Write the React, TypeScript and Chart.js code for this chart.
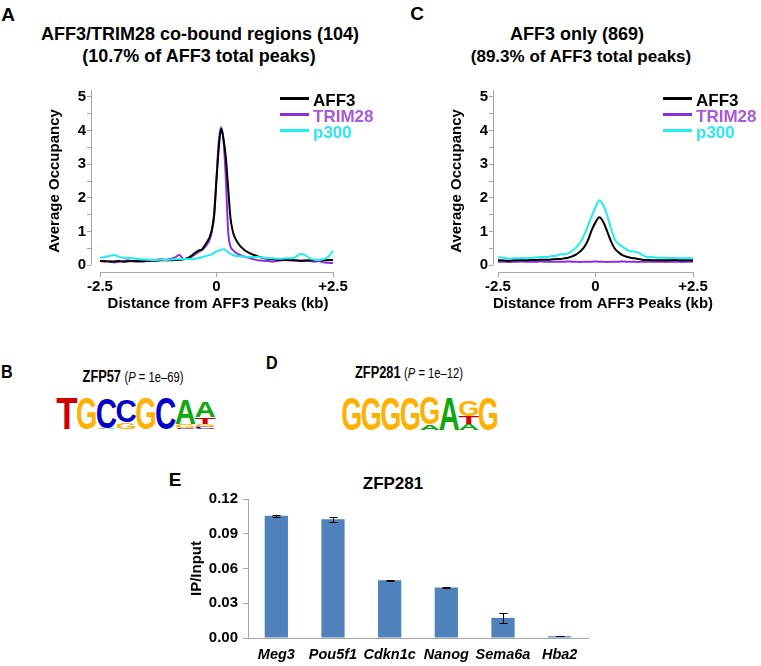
import React, { useEffect, useRef } from 'react';
import { Chart, registerables } from 'chart.js';
Chart.register(...registerables);

// ---------- DATA ----------
// Panel A: AFF3/TRIM28 co-bound regions (distance in kb)
const distA = [-2.5, -2.4, -2.3, -2.2, -2.1, -2.0, -1.9, -1.8, -1.7, -1.6, -1.5, -1.4, -1.3, -1.2, -1.1, -1.0, -0.9, -0.8, -0.7, -0.6, -0.5, -0.4, -0.3, -0.2,
  -0.15, -0.1, -0.05, 0, 0.05, 0.1, 0.15, 0.2, 0.25, 0.3, 0.35, 0.4,
  0.5, 0.6, 0.7, 0.8, 0.9, 1.0, 1.1, 1.2, 1.3, 1.4, 1.5, 1.6, 1.7, 1.8, 1.9, 2.0, 2.1, 2.2, 2.3, 2.4, 2.5];
const aff3A = [0.12, 0.12, 0.10, 0.11, 0.12, 0.10, 0.11, 0.12, 0.12, 0.11, 0.12, 0.13, 0.13, 0.14, 0.14, 0.14, 0.15, 0.15, 0.17, 0.22, 0.32, 0.42, 0.48, 0.70,
  0.82, 1.05, 1.5, 2.55, 3.5, 4.05, 3.75, 3.2, 2.3, 1.4, 1.0, 0.8,
  0.58, 0.45, 0.36, 0.30, 0.25, 0.21, 0.19, 0.17, 0.16, 0.15, 0.15, 0.14, 0.14, 0.13, 0.13, 0.14, 0.14, 0.15, 0.14, 0.15, 0.15];
const trim28A = [0.12, 0.10, 0.12, 0.08, 0.10, 0.12, 0.14, 0.11, 0.10, 0.14, 0.16, 0.14, 0.16, 0.17, 0.16, 0.18, 0.22, 0.30, 0.18, 0.20, 0.28, 0.38, 0.46, 0.62,
  0.75, 1.0, 1.5, 2.6, 3.7, 4.1, 3.7, 2.6, 1.0, 0.55, 0.45, 0.38,
  0.30, 0.25, 0.22, 0.17, 0.14, 0.13, 0.12, 0.10, 0.12, 0.14, 0.17, 0.14, 0.13, 0.12, 0.14, 0.12, 0.10, 0.12, 0.08, 0.07, 0.06];
const p300A = [0.22, 0.24, 0.27, 0.30, 0.25, 0.22, 0.22, 0.20, 0.18, 0.17, 0.16, 0.15, 0.15, 0.16, 0.15, 0.16, 0.17, 0.17, 0.18, 0.18, 0.18, 0.20, 0.24, 0.28,
  0.30, 0.32, 0.36, 0.40, 0.43, 0.46, 0.47, 0.44, 0.38, 0.33, 0.30, 0.28,
  0.26, 0.25, 0.24, 0.24, 0.24, 0.22, 0.20, 0.20, 0.19, 0.19, 0.20, 0.20, 0.24, 0.33, 0.30, 0.20, 0.16, 0.15, 0.18, 0.25, 0.42];

// Panel C: AFF3 only
const distC = [-2.5, -2.4, -2.3, -2.2, -2.1, -2.0, -1.9, -1.8, -1.7, -1.6, -1.5, -1.4, -1.3, -1.2, -1.1, -1.0, -0.9, -0.8, -0.7, -0.6,
  -0.5, -0.4, -0.3, -0.2, -0.1, 0, 0.1, 0.2, 0.3, 0.4, 0.5, 0.6, 0.7, 0.8, 0.9, 1.0, 1.1, 1.2, 1.3, 1.4,
  1.5, 1.6, 1.7, 1.8, 1.9, 2.0, 2.1, 2.2, 2.3, 2.4, 2.5];
const aff3C = [0.14, 0.14, 0.13, 0.13, 0.14, 0.14, 0.14, 0.14, 0.15, 0.15, 0.15, 0.16, 0.16, 0.16, 0.17, 0.18, 0.18, 0.20, 0.22, 0.26,
  0.31, 0.40, 0.52, 0.72, 1.03, 1.27, 1.42, 1.28, 1.0, 0.70, 0.48, 0.37, 0.29, 0.25, 0.22, 0.20, 0.18, 0.16, 0.15, 0.15,
  0.14, 0.14, 0.14, 0.14, 0.14, 0.15, 0.15, 0.14, 0.14, 0.14, 0.14];
const trim28C = [0.10, 0.10, 0.10, 0.09, 0.10, 0.10, 0.11, 0.10, 0.10, 0.10, 0.10, 0.11, 0.10, 0.10, 0.10, 0.10, 0.10, 0.10, 0.11, 0.10,
  0.10, 0.09, 0.10, 0.10, 0.10, 0.11, 0.10, 0.10, 0.09, 0.10, 0.10, 0.10, 0.11, 0.10, 0.10, 0.10, 0.09, 0.10, 0.10, 0.10,
  0.10, 0.10, 0.10, 0.09, 0.10, 0.10, 0.10, 0.09, 0.10, 0.10, 0.10];
const p300C = [0.22, 0.23, 0.20, 0.19, 0.20, 0.20, 0.21, 0.20, 0.21, 0.22, 0.23, 0.24, 0.24, 0.25, 0.27, 0.28, 0.32, 0.32, 0.35, 0.42,
  0.52, 0.66, 0.87, 1.15, 1.45, 1.72, 1.93, 1.78, 1.48, 1.08, 0.75, 0.62, 0.54, 0.46, 0.41, 0.40, 0.37, 0.30, 0.25, 0.24,
  0.23, 0.22, 0.22, 0.21, 0.21, 0.21, 0.20, 0.20, 0.20, 0.20, 0.20];

const occTicks = [0, 0.5, 1, 1.5, 2, 2.5, 3, 3.5, 4, 4.5, 5];
const distTicks = [-2.5, 0, 2.5];
const distTickLabels = ['-2.5', '0', '+2.5'];

// Panel E: ZFP281 ChIP-qPCR
const genes = ['Meg3', 'Pou5f1', 'Cdkn1c', 'Nanog', 'Sema6a', 'Hba2'];
const ipInput = [0.1055, 0.1025, 0.0498, 0.0436, 0.0174, 0.0015];
const ipErr = [0.0008, 0.0022, 0.0003, 0.0002, 0.0045, 0.0002];
const ipTicks = [0, 0.03, 0.06, 0.09, 0.12];

// Motif logos (columns listed top -> bottom: [letter, fraction of full height])
const logoZFP57: [string, number][][] = [
  [['T', 1.0]],
  [['G', 1.0]],
  [['C', 0.97], ['A', 0.03]],
  [['C', 0.72], ['G', 0.21]],
  [['G', 1.0]],
  [['C', 1.0]],
  [['A', 0.79], ['G', 0.12], ['C', 0.04]],
  [['A', 0.5], ['T', 0.22], ['G', 0.08], ['C', 0.07]],
];
const logoZFP281: [string, number][][] = [
  [['G', 1.0]],
  [['G', 1.0]],
  [['G', 1.0]],
  [['G', 1.0]],
  [['G', 0.83], ['A', 0.17]],
  [['A', 1.0]],
  [['G', 0.48], ['T', 0.25], ['A', 0.18]],
  [['G', 1.0]],
];

// ---------- STYLE ----------
const FONT = '"Liberation Sans", Arial, Helvetica, sans-serif';
const AXIS_GRAY = '#A6A6A6';
const COLORS = { AFF3: '#000000', TRIM28: '#8E2CDC', p300: '#22EEEE' };
const LEGEND_TEXT = { AFF3: '#000000', TRIM28: '#A958D8', p300: '#2EE6EE' };
const LETTER_COLORS: Record<string, string> = { A: '#10A810', C: '#0000C8', G: '#FFB000', T: '#CC0000' };

const detachedAxes = {
  id: 'detachedAxes',
  afterDraw(chart: any, _args: any, opts: any) {
    const { ctx, chartArea, scales } = chart;
    const x = scales.x, y = scales.y;
    ctx.save();
    ctx.strokeStyle = opts.color;
    ctx.lineWidth = 1;
    ctx.beginPath();
    const xl = Math.round(chartArea.left) + 0.5;
    ctx.moveTo(xl, y.getPixelForValue(0));
    ctx.lineTo(xl, chartArea.top);
    const yb = Math.round(chartArea.bottom) + 0.5;
    ctx.moveTo(x.getPixelForValue(opts.xFrom), yb);
    ctx.lineTo(x.getPixelForValue(opts.xTo), yb);
    ctx.stroke();
    ctx.restore();
  },
};

const errorBars = {
  id: 'errorBars',
  afterDatasetsDraw(chart: any, _args: any, opts: any) {
    const meta = chart.getDatasetMeta(0);
    const y = chart.scales.y;
    const ctx = chart.ctx;
    const vals = chart.data.datasets[0].data;
    ctx.save();
    ctx.strokeStyle = '#000';
    ctx.lineWidth = 1;
    meta.data.forEach((bar: any, i: number) => {
      const v = vals[i], e = opts.errors[i];
      const x = Math.round(bar.x) + 0.5;
      const yt = Math.round(y.getPixelForValue(v + e)) + 0.5;
      const ybt = Math.round(y.getPixelForValue(v - e)) + 0.5;
      const cap = opts.cap;
      ctx.beginPath();
      ctx.moveTo(x, yt); ctx.lineTo(x, ybt);
      ctx.moveTo(x - cap, yt); ctx.lineTo(x + cap, yt);
      ctx.moveTo(x - cap, ybt); ctx.lineTo(x + cap, ybt);
      ctx.stroke();
    });
    ctx.restore();
  },
};

type ProfileProps = {
  left: number; top: number; width: number; height: number;
  areaLeft: number; areaRight: number; xStartPx: number; xEndPx: number;
  yTitlePad: number;
  dist: number[]; aff3: number[]; trim28: number[]; p300: number[];
};

function ProfileChart(p: ProfileProps) {
  const ref = useRef<HTMLCanvasElement | null>(null);
  useEffect(() => {
    const areaTop = 88, areaBottom = 272, zeroPx = 265, unitPx = 34;
    const ppu = (p.xEndPx - p.xStartPx) / 5;
    const xMin = -2.5 - (p.xStartPx - p.areaLeft) / ppu;
    const xMax = 2.5 + (p.areaRight - p.xEndPx) / ppu;
    const yMin = -(areaBottom - zeroPx) / unitPx;
    const yMax = (zeroPx - areaTop) / unitPx;
    const tickFont = { family: FONT, size: 15, weight: 'bold' as const };
    const mk = (label: 'AFF3' | 'TRIM28' | 'p300', arr: number[], order: number) => ({
      label,
      data: p.dist.map((d, i) => ({ x: d, y: arr[i] })),
      borderColor: COLORS[label],
      backgroundColor: COLORS[label],
      borderWidth: 2,
      pointRadius: 0,
      cubicInterpolationMode: 'monotone' as const,
      order,
    });
    const chart = new Chart(ref.current!, {
      type: 'line',
      data: { datasets: [mk('AFF3', p.aff3, 1), mk('TRIM28', p.trim28, 2), mk('p300', p.p300, 0)] },
      options: {
        responsive: false,
        animation: false,
        events: [],
        layout: { padding: { top: areaTop - p.top, right: p.left + p.width - p.areaRight, left: 0, bottom: 0 } },
        plugins: {
          legend: { display: false },
          tooltip: { enabled: false },
          detachedAxes: { color: AXIS_GRAY, xFrom: -2.5, xTo: 2.5 },
        } as any,
        scales: {
          x: {
            type: 'linear',
            min: xMin,
            max: xMax,
            afterBuildTicks: (s: any) => { s.ticks = distTicks.map((v) => ({ value: v })); },
            afterFit: (s: any) => { s.height = p.top + p.height - areaBottom; },
            ticks: {
              autoSkip: false, maxRotation: 0, padding: 1, color: '#000', font: tickFont,
              callback: (_v: any, i: number) => distTickLabels[i],
            },
            grid: { drawOnChartArea: false, drawTicks: true, tickLength: 5, color: AXIS_GRAY },
            border: { display: false },
            title: { display: true, text: 'Distance from AFF3 Peaks (kb)', color: '#000', font: tickFont, padding: 5 },
          },
          y: {
            min: yMin,
            max: yMax,
            afterBuildTicks: (s: any) => { s.ticks = occTicks.map((v) => ({ value: v })); },
            afterFit: (s: any) => { s.width = p.areaLeft - p.left; },
            ticks: {
              autoSkip: false, padding: 1, color: '#000', font: tickFont,
              callback: (v: any) => (Number.isInteger(v) ? String(v) : ''),
            },
            grid: { drawOnChartArea: false, drawTicks: true, tickLength: 4, color: AXIS_GRAY },
            border: { display: false },
            title: { display: true, text: 'Average Occupancy', color: '#000', font: tickFont, padding: p.yTitlePad },
          },
        },
      },
      plugins: [detachedAxes as any],
    });
    return () => chart.destroy();
  }, []);
  return (
    <canvas ref={ref} width={p.width} height={p.height}
      style={{ position: 'absolute', left: p.left, top: p.top, width: p.width, height: p.height }} />
  );
}

function BarChartE() {
  const ref = useRef<HTMLCanvasElement | null>(null);
  useEffect(() => {
    const left = 150, top = 485, width = 450, height = 181;
    const areaLeft = 248, areaRight = 588, areaTop = 495, areaBottom = 638;
    const chart = new Chart(ref.current!, {
      type: 'bar',
      data: {
        labels: genes,
        datasets: [{ data: ipInput, backgroundColor: '#4F81BD', borderWidth: 0, barPercentage: 0.41, categoryPercentage: 1 }],
      },
      options: {
        responsive: false,
        animation: false,
        events: [],
        layout: { padding: { top: areaTop - top, right: left + width - areaRight, left: 0, bottom: 0 } },
        plugins: {
          legend: { display: false },
          tooltip: { enabled: false },
          errorBars: { errors: ipErr, cap: 4 },
        } as any,
        scales: {
          x: {
            afterFit: (s: any) => { s.height = top + height - areaBottom; },
            ticks: {
              autoSkip: false, minRotation: 0, maxRotation: 0, padding: 8, color: '#000',
              font: { family: FONT, size: 14.5, weight: 'bold', style: 'italic' },
            },
            grid: { display: true, drawOnChartArea: false, drawTicks: false },
            border: { display: true, color: AXIS_GRAY },
          },
          y: {
            min: 0,
            max: 0.12,
            afterBuildTicks: (s: any) => { s.ticks = ipTicks.map((v) => ({ value: v })); },
            afterFit: (s: any) => { s.width = areaLeft - left; },
            ticks: { padding: 5, color: '#000', font: { family: FONT, size: 15, weight: 'bold' }, callback: (v: any) => Number(v).toFixed(2) },
            grid: { drawOnChartArea: false, drawTicks: true, tickLength: 5, color: AXIS_GRAY },
            border: { display: true, color: AXIS_GRAY },
            title: { display: true, text: 'IP/Input', color: '#000', font: { family: FONT, size: 15, weight: 'bold' }, padding: 38 },
          },
        },
      },
      plugins: [errorBars as any],
    });
    return () => chart.destroy();
  }, []);
  return (
    <canvas ref={ref} width={450} height={181}
      style={{ position: 'absolute', left: 150, top: 485, width: 450, height: 181 }} />
  );
}

function Txt(props: { x: number; y: number; size: number; bold?: boolean; color?: string; align?: 'center' | 'left'; squeeze?: number; children: any }) {
  const { x, y, size, bold = true, color = '#000', align = 'center', squeeze = 1, children } = props;
  const tf = (align === 'center' ? 'translateX(-50%) ' : '') + (squeeze !== 1 ? `scaleX(${squeeze})` : '');
  return (
    <div style={{
      position: 'absolute', left: x, top: y - size / 2, lineHeight: `${size}px`, fontSize: size,
      fontFamily: FONT, fontWeight: bold ? 'bold' : 'normal', color, whiteSpace: 'nowrap',
      transform: tf || undefined, transformOrigin: align === 'center' ? '0 50%' : '0 50%',
    }}>{children}</div>
  );
}

function Legend(props: { lineLeft: number; textLeft: number; ys: number[] }) {
  const items: ('AFF3' | 'TRIM28' | 'p300')[] = ['AFF3', 'TRIM28', 'p300'];
  return (
    <>
      {items.map((k, i) => (
        <React.Fragment key={k}>
          <div style={{ position: 'absolute', left: props.lineLeft, top: props.ys[i] - 3, width: 29, height: 2.5, background: COLORS[k] }} />
          <Txt x={props.textLeft} y={props.ys[i]} size={17} align="left" color={LEGEND_TEXT[k]}>{k}</Txt>
        </React.Fragment>
      ))}
    </>
  );
}

function Logo(props: { left: number; top: number; width: number; height: number; columns: [string, number][][] }) {
  const { left, top, width, height, columns } = props;
  const colW = width / columns.length;
  const glyphW = colW * 1.08;
  return (
    <svg width={width} height={height} style={{ position: 'absolute', left, top, overflow: 'visible' }}>
      {columns.map((col, i) => {
        let yBottom = height;
        const items: any[] = [];
        for (let j = col.length - 1; j >= 0; j--) {
          const [letter, frac] = col[j];
          const h = frac * height;
          items.push(
            <text key={j} x={0} y={0} fontFamily={FONT} fontWeight="bold" fontSize={100}
              fill={LETTER_COLORS[letter]} textLength={glyphW} lengthAdjust="spacingAndGlyphs"
              transform={`translate(${i * colW - (glyphW - colW) / 2},${yBottom}) scale(1,${h / 72})`}>{letter}</text>
          );
          yBottom -= h;
        }
        return <g key={i}>{items}</g>;
      })}
    </svg>
  );
}

function MotifTitle(props: { x: number; y: number; name: string; p: string }) {
  // centred, horizontally condensed title (narrow font look)
  return (
    <div style={{
      position: 'absolute', left: props.x, top: props.y - 9, height: 18, lineHeight: '18px',
      fontFamily: FONT, whiteSpace: 'nowrap', transform: 'translateX(-50%) scaleX(0.8)', transformOrigin: '50% 50%',
    }}>
      <span style={{ fontWeight: 'bold', fontSize: 16 }}>{props.name}</span>{' '}
      <span style={{ fontSize: 14 }}>(<i>P</i> = {props.p})</span>
    </div>
  );
}

export default function App() {
  return (
    <div style={{ position: 'absolute', left: 0, top: 0, width: 761, height: 666, background: '#fff', overflow: 'hidden' }}>
      {/* Panel A */}
      <Txt x={8} y={14} size={19}>A</Txt>
      <Txt x={200} y={34} size={18}>AFF3/TRIM28 co-bound regions (104)</Txt>
      <Txt x={199} y={56} size={18}>(10.7% of AFF3 total peaks)</Txt>
      <ProfileChart left={30} top={80} width={330} height={238} areaLeft={91} areaRight={345} xStartPx={100} xEndPx={333}
        yTitlePad={16} dist={distA} aff3={aff3A} trim28={trim28A} p300={p300A} />
      <Legend lineLeft={280} textLeft={313} ys={[100, 116, 132]} />

      {/* Panel C */}
      <Txt x={417} y={13} size={19}>C</Txt>
      <Txt x={577} y={34} size={18}>AFF3 only (869)</Txt>
      <Txt x={581} y={56} size={17}>(89.3% of AFF3 total peaks)</Txt>
      <ProfileChart left={420} top={80} width={310} height={238} areaLeft={493} areaRight={713} xStartPx={498} xEndPx={693}
        yTitlePad={28} dist={distC} aff3={aff3C} trim28={trim28C} p300={p300C} />
      <Legend lineLeft={663} textLeft={696} ys={[100, 116, 132]} />

      {/* Panel B */}
      <Txt x={1} y={371} size={19} align="left" squeeze={0.85}>B</Txt>
      <MotifTitle x={133} y={377} name="ZFP57" p="1e–69" />
      <Logo left={57} top={397} width={158} height={32} columns={logoZFP57} />

      {/* Panel D */}
      <Txt x={266} y={362} size={19} align="left" squeeze={0.85}>D</Txt>
      <MotifTitle x={409} y={373} name="ZFP281" p="1e–12" />
      <Logo left={342} top={397} width={156} height={33} columns={logoZFP281} />

      {/* Panel E */}
      <Txt x={175} y={479} size={19}>E</Txt>
      <Txt x={393} y={483} size={17}>ZFP281</Txt>
      <BarChartE />
    </div>
  );
}
